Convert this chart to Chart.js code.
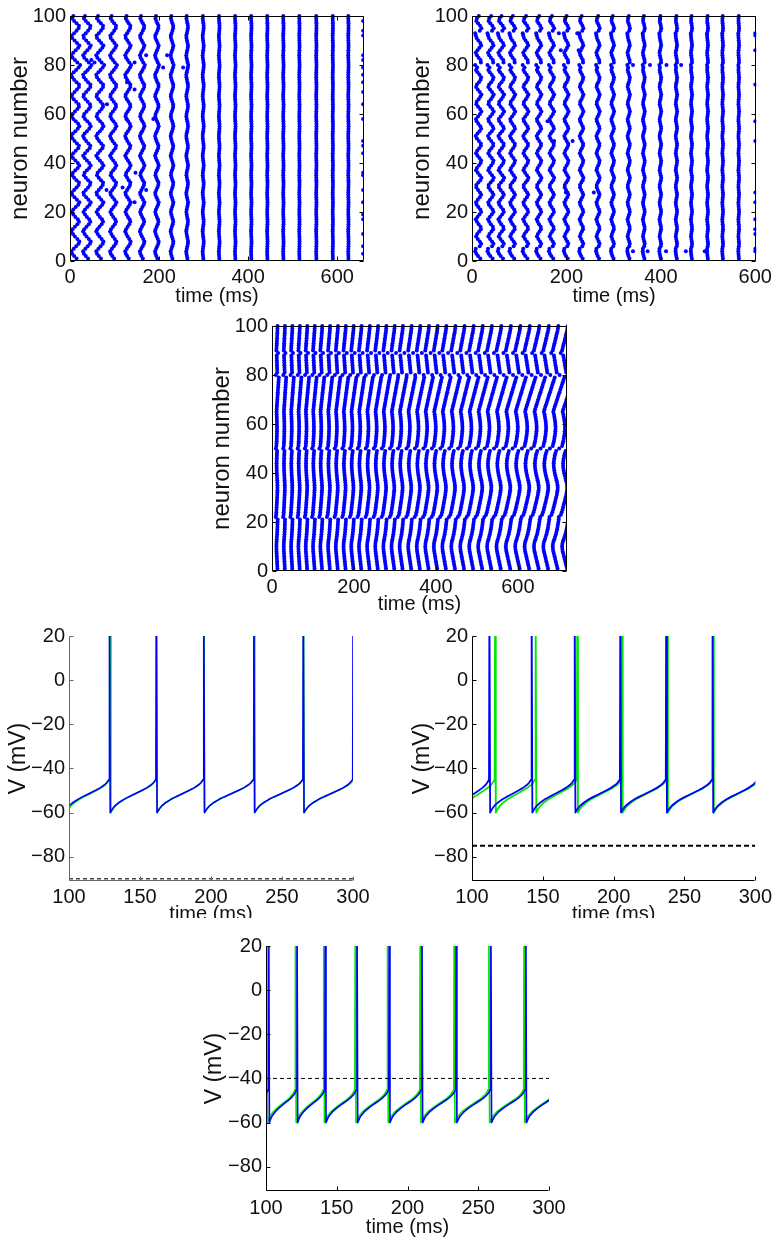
<!DOCTYPE html>
<html><head><meta charset="utf-8">
<script src="https://cdn.jsdelivr.net/npm/chart.js@4.4.1/dist/chart.umd.min.js"></script>
<style>
html,body{margin:0;padding:0;background:#fff;width:776px;height:1239px;overflow:hidden;position:relative}
.p{position:absolute;overflow:hidden}
</style></head><body>
<script>
// ---------- tick labels ----------
const rasterXTicks = [0, 200, 400, 600];
const rasterYTicks = [0, 20, 40, 60, 80, 100];
const vXTicks = [100, 150, 200, 250, 300];
const vYTicks = [-80, -60, -40, -20, 0, 20];

// ---------- panel 1 (top left raster) ----------
const p1ColTimes = [12, 38, 67, 97, 130, 162, 195, 229, 263, 299, 335, 371, 407, 443, 479, 515, 553, 590, 625];
const p1Spread   = [9, 8.5, 8, 7, 6, 5, 4, 3, 2, 1.2, 0.8, 0.6, 0.5, 0.4, 0.4, 0.3, 0.3, 0.3, 0.3];
const p1Lag = [
  0.3,-0.3,-0.8,-1,-0.4,0.2,0.8,1,0.5,-0.1,
  -0.6,-1,-0.7,-0.1,0.5,0.9,0.6,0,-0.5,-0.9,
  -0.5,0.1,0.7,1,0.4,-0.2,-0.8,-0.9,-0.3,0.3,
  0.8,0.9,0.3,-0.3,-0.8,-0.6,0,0.6,1,0.6,
  0,-0.6,-1,-0.5,0.1,0.7,0.9,0.4,-0.2,-0.7,
  -1,-0.6,0,0.6,1,0.7,0.1,-0.5,-0.9,-0.7,
  -0.1,0.5,0.9,0.8,0.2,-0.4,-0.9,-0.8,-0.2,0.4,
  0.9,0.9,0.3,-0.3,-0.8,-1,-0.4,0.2,0.8,1.2,
  0.5,-0.1,-0.7,-1,-0.5,0.1,0.7,1,0.4,-0.2,
  -0.8,-0.9,-0.3,0.3,0.8,0.9,0.3,-0.3,-0.8,-0.5];
const p1LastTime = 658;
const p1LastNeurons = [98, 94, 92, 84, 82, 79, 76, 73, 69, 64, 58, 49, 47, 44, 36, 35, 29, 24, 19, 17, 11, 6, 3];
const p1Stray = [[171,84],[209,79],[218,84],[254,79],[145,81],[55,81],[83,64],[145,70],[118,30],[128,73],[145,24],[171,29],[127,58],[187,58],[147,36],[82,29],[48,82]];

// ---------- panel 2 (top right raster) ----------
const p2ColTimes = [14, 40, 62, 86, 114, 142, 169, 200, 232, 267, 298, 332, 364, 399, 433, 465, 499, 531, 565];
const p2Spread   = [6, 6, 6, 5.5, 5.5, 5, 5, 4.5, 4, 3.5, 3, 2.5, 2, 1.8, 1.5, 1.2, 1, 0.8, 0.7];
const p2Lag = [
  0.6,-0.2,-0.8,-1.2,-1,0.4,0.9,0.4,-0.3,-0.9,
  -0.5,0.2,0.8,0.7,0,-0.6,-1,-0.4,0.3,0.9,
  0.6,-0.1,-0.7,-0.9,-0.3,0.4,0.9,0.5,-0.2,-0.8,
  -0.8,-0.1,0.6,1,0.4,-0.3,-0.9,-0.6,0.1,0.7,
  0.9,0.3,-0.4,-0.9,-0.5,0.2,0.8,0.8,0.1,-0.6,
  -1,-0.4,0.3,0.9,0.6,-0.1,-0.7,-0.9,-0.2,0.5,
  1,0.5,-0.2,-0.8,-0.7,0,0.6,1,0.4,-0.3,
  -0.9,-0.6,0.1,0.7,0.9,0.3,-0.4,-0.9,-0.5,-1.2,
  0.8,0.7,0,-0.6,-1,-0.4,0.3,0.9,0.6,-0.1,
  -0.7,-1,-1.2,0.4,1,0.5,-0.2,-0.8,-0.6,0.1];
const p2LastTime = 600;
const p2LastNeurons = [93, 92, 86, 72, 57, 49, 28, 24, 17, 13, 11, 5, 4];
const p2Stray = [[341,80],[377,80],[412,80],[443,80],[341,4],[372,4],[411,4],[453,4],[493,4],
  [184,93],[223,93],[174,49],[213,49],[199,28],[258,28],[160,57],[188,86],[226,86]];

// ---------- panel 3 (middle raster) ----------
const p3ColTimes = [12, 30, 48, 66, 84, 102, 120, 139, 158, 177, 196, 215, 235, 255, 275, 295, 315, 336, 357,
  378, 399, 420, 442, 464, 486, 508, 530, 553, 576, 599, 622, 645, 668, 691, 714];
const p3Spread = [2, 2, 2.3, 2.5, 2.8, 3, 3.3, 3.5, 3.8, 4, 4.3, 4.5, 4.8, 5, 5.3, 5.5, 5.8, 6, 6.3,
  6.5, 6.8, 7, 7.3, 7.5, 7.8, 8, 8.3, 8.5, 8.8, 9, 9.2, 9.4, 9.6, 9.8, 10];
const p3Lag = [
  0.6,0.45,0.3,0.15,0,-0.15,-0.3,-0.45,-0.55,-0.6,
  -0.55,-0.4,-0.2,0,0.2,0.35,0.5,0.6,0.7,0.8,
  0.9,-1.4,-0.9,-0.7,-0.5,-0.35,-0.2,-0.05,0.1,0.25,
  0.4,0.5,0.6,0.65,0.6,0.5,0.35,0.2,0.05,-0.1,
  -0.2,-0.3,-0.35,-0.35,-0.3,-0.2,-0.1,0.05,0.25,-1.3,
  -0.6,-0.45,-0.3,-0.2,-0.1,0,0.05,0.1,0.1,0.05,
  0,-0.1,-0.2,-0.3,-0.45,-0.3,-0.1,0.1,0.3,0.5,
  0.7,0.9,1.1,1.3,1.5,1.7,1.9,2.1,2.3,-1.2,
  0.4,0.3,0.2,0.1,0,-0.1,-0.2,-0.3,1.4,-0.6,
  -0.45,-0.3,-0.15,0,0.15,0.3,0.45,0.6,0.7,0.8];

// ---------- voltage traces ----------
// membrane recovery between spikes (fraction of interval -> mV)
const recFrac  = [0, 0.05, 0.1, 0.2, 0.3, 0.4, 0.5, 0.6, 0.7, 0.8, 0.9, 0.95];
const recShape = [-60, -58.3, -57, -55.3, -54, -52.9, -51.9, -50.9, -49.9, -48.8, -47.4, -46.4];
const spikeOnsetV = -45;
const spikePeakV = 40;

const p4BlueSpikes  = [96, 128.2, 161.2, 194.6, 229.9, 264.7, 299.78];
const p4GreenSpikes = [97.5, 128.7, 161.3, 194.7, 230.0, 264.8, 300.4];
const p4DashV = -90;
const p5BlueSpikes  = [88, 112.0, 141.8, 172.2, 204.4, 236.8, 269.5, 301.5];
const p5GreenSpikes = [91, 116.0, 144.6, 174.0, 205.6, 237.5, 269.9, 302.5];
const p5DashV = -75;
const p6BlueSpikes  = [79, 101.6, 121.6, 141.6, 164.0, 186.8, 209.9, 234.1, 258.6, 283.3, 307];
const p6GreenSpikes = [77, 100.2, 120.5, 140.5, 162.8, 185.6, 208.7, 232.7, 257.2, 282.1, 306];
const p6DashV = -40;

// ---------- builders ----------
function rasterPoints(colTimes, spread, lag) {
  const pts = [];
  colTimes.forEach((t, c) => lag.forEach((l, i) => pts.push({x: t + l * spread[c], y: i + 1})));
  return pts;
}
function columnPoints(t, neurons) { return neurons.map(n => ({x: t, y: n})); }
function pairPoints(pairs) { return pairs.map(p => ({x: p[0], y: p[1]})); }
function tracePoints(spikes) {
  const pts = [];
  for (let k = 0; k < spikes.length; k++) {
    const s = spikes[k];
    pts.push({x: s, y: spikeOnsetV});
    pts.push({x: s + 0.3, y: spikePeakV});
    if (k < spikes.length - 1) {
      const r0 = s + 0.8, e = spikes[k + 1];
      recFrac.forEach((f, j) => pts.push({x: r0 + f * (e - r0), y: recShape[j]}));
    }
  }
  return pts;
}

const FONT = "'Liberation Sans', Arial, Helvetica, sans-serif";
const fmt = v => String(v).replace('-', '\u2212');

const framePlugin = {
  id: 'frame',
  afterDatasetsDraw(chart, args, o) {
    const {ctx, chartArea: a} = chart;
    const xs = chart.scales.x, ys = chart.scales.y;
    const L = Math.round(a.left) + 0.5, R = Math.round(a.right) - 0.5;
    const T = Math.round(a.top) + 0.5, B = Math.round(a.bottom) - 0.5;
    const tl = 4;
    ctx.save();
    ctx.strokeStyle = o.color || '#000';
    ctx.lineWidth = 1;
    ctx.beginPath();
    ctx.moveTo(L, T); ctx.lineTo(L, B); ctx.lineTo(R, B);
    if (o.box) { ctx.lineTo(R, T); ctx.lineTo(L, T); }
    xs.ticks.forEach(t => {
      const px = Math.round(xs.getPixelForValue(t.value)) + 0.5;
      ctx.moveTo(px, B); ctx.lineTo(px, B - tl);
      if (o.box) { ctx.moveTo(px, T); ctx.lineTo(px, T + tl); }
    });
    ys.ticks.forEach(t => {
      const py = Math.round(ys.getPixelForValue(t.value)) + 0.5;
      ctx.moveTo(L, py); ctx.lineTo(L + tl, py);
      if (o.box) { ctx.moveTo(R, py); ctx.lineTo(R - tl, py); }
    });
    ctx.stroke();
    ctx.restore();
  }
};

function panel(cfg) {
  const div = document.createElement('div');
  div.className = 'p';
  div.style.left = cfg.left + 'px'; div.style.top = cfg.top + 'px';
  div.style.width = cfg.w + 'px'; div.style.height = (cfg.clipH || cfg.h) + 'px';
  const cv = document.createElement('canvas');
  cv.width = cfg.w; cv.height = cfg.h;
  cv.style.width = cfg.w + 'px'; cv.style.height = cfg.h + 'px';
  div.appendChild(cv);
  document.body.appendChild(div);
  new Chart(cv, {
    type: 'scatter',
    data: {datasets: cfg.datasets},
    options: {
      responsive: false, animation: false, events: [],
      layout: {padding: {left: 0, right: cfg.padR, top: cfg.padT, bottom: 0}, autoPadding: false},
      plugins: {legend: {display: false}, tooltip: {enabled: false}, frame: {box: cfg.box, color: cfg.axisColor || '#000'}},
      scales: {
        x: {
          type: 'linear', min: cfg.xMin, max: cfg.xMax,
          grid: {display: false, drawTicks: false}, border: {display: false},
          afterBuildTicks: s => { s.ticks = cfg.xTicks.map(v => ({value: v})); },
          afterFit: s => { s.height = cfg.xh; },
          ticks: {font: {family: FONT, size: 20}, color: '#111', padding: cfg.xTickPad, maxRotation: 0, autoSkip: false,
                  callback: v => fmt(v)},
          title: {display: true, text: 'time (ms)', font: {family: FONT, size: 20}, color: '#111',
                  padding: {top: 0, bottom: cfg.xTitlePad}}
        },
        y: {
          type: 'linear', min: cfg.yMin, max: cfg.yMax,
          grid: {display: false, drawTicks: false}, border: {display: false},
          afterBuildTicks: s => { s.ticks = cfg.yTicks.map(v => ({value: v})); },
          afterFit: s => { s.width = cfg.yw; },
          ticks: {font: {family: FONT, size: 20}, color: '#111', padding: 4, autoSkip: false, callback: v => fmt(v)},
          title: {display: true, text: cfg.yTitle, font: {family: FONT, size: cfg.yTitleSize}, color: '#111',
                  padding: {top: cfg.yTitlePad, bottom: 0}}
        }
      }
    },
    plugins: [framePlugin]
  });
}

const BLUE = '#0000ff', GREEN = '#00e800';
function dots(pts) {
  return {data: pts, showLine: false, pointRadius: 2, pointBackgroundColor: BLUE, pointBorderWidth: 0,
          pointBorderColor: BLUE, clip: {left: 0, right: 0, top: 3, bottom: 3}};
}
function line(pts, color, width, dash) {
  return {data: pts, showLine: true, pointRadius: 0, borderColor: color, borderWidth: width,
          borderDash: dash || [], borderJoinStyle: 'round', tension: 0, fill: false};
}
function dashLine(v, color, width, dash) {
  return line([{x: 100, y: v}, {x: 300, y: v}], color, width, dash);
}

const rasterCommon = {box: true, yMin: 0, yMax: 100, xTicks: rasterXTicks, yTicks: rasterYTicks,
  yTitle: 'neuron number', yTitleSize: 24, yTitlePad: 6, h: 310, padT: 16, xh: 49, yw: 70, xTickPad: 4};

panel(Object.assign({}, rasterCommon, {left: 0, top: 0, w: 380, padR: 16, xMin: 0, xMax: 660, xTitlePad: 2,
  datasets: [dots(rasterPoints(p1ColTimes, p1Spread, p1Lag)), dots(columnPoints(p1LastTime, p1LastNeurons)), dots(pairPoints(p1Stray))]}));
panel(Object.assign({}, rasterCommon, {left: 402, top: 0, w: 374, padR: 16, xMin: 0, xMax: 602, xTitlePad: 2,
  datasets: [dots(rasterPoints(p2ColTimes, p2Spread, p2Lag)), dots(columnPoints(p2LastTime, p2LastNeurons)), dots(pairPoints(p2Stray))]}));
panel(Object.assign({}, rasterCommon, {left: 202, top: 310, w: 380, padR: 15, xMin: 0, xMax: 720, xTitlePad: 4,
  datasets: [dots(rasterPoints(p3ColTimes, p3Spread, p3Lag))]}));

const vCommon = {box: false, yMin: -91, yMax: 20, xMin: 100, xMax: 300, xTicks: vXTicks, yTicks: vYTicks,
  yTitle: 'V (mV)', yTitleSize: 23, padT: 16, xh: 49, xTickPad: 4};

// Chart.js paints the first dataset on top: dashed reference, then blue over green
panel(Object.assign({}, vCommon, {left: 0, top: 620, w: 380, h: 310, clipH: 298, padR: 27, yw: 69, yTitlePad: 5, xTitlePad: 4,
  axisColor: '#666',
  datasets: [dashLine(p4DashV, '#444', 1.5, [4, 3]),
             line(tracePoints(p4BlueSpikes), BLUE, 1.6), line(tracePoints(p4GreenSpikes), GREEN, 1.6)]}));
panel(Object.assign({}, vCommon, {left: 402, top: 620, w: 374, h: 310, clipH: 298, padR: 19, yw: 70, yTitlePad: 7, xTitlePad: 4,
  datasets: [dashLine(p5DashV, '#000', 2, [5, 3]),
             line(tracePoints(p5BlueSpikes), BLUE, 1.8), line(tracePoints(p5GreenSpikes), GREEN, 1.8)]}));
panel(Object.assign({}, vCommon, {left: 196, top: 930, w: 380, h: 309, padR: 27, yw: 70, yTitlePad: 5, xh: 48, xTickPad: 5, xTitlePad: 0,
  datasets: [dashLine(p6DashV, '#000', 1, [4, 3]),
             line(tracePoints(p6BlueSpikes), BLUE, 1.6), line(tracePoints(p6GreenSpikes), GREEN, 1.6)]}));
</script></body></html>
